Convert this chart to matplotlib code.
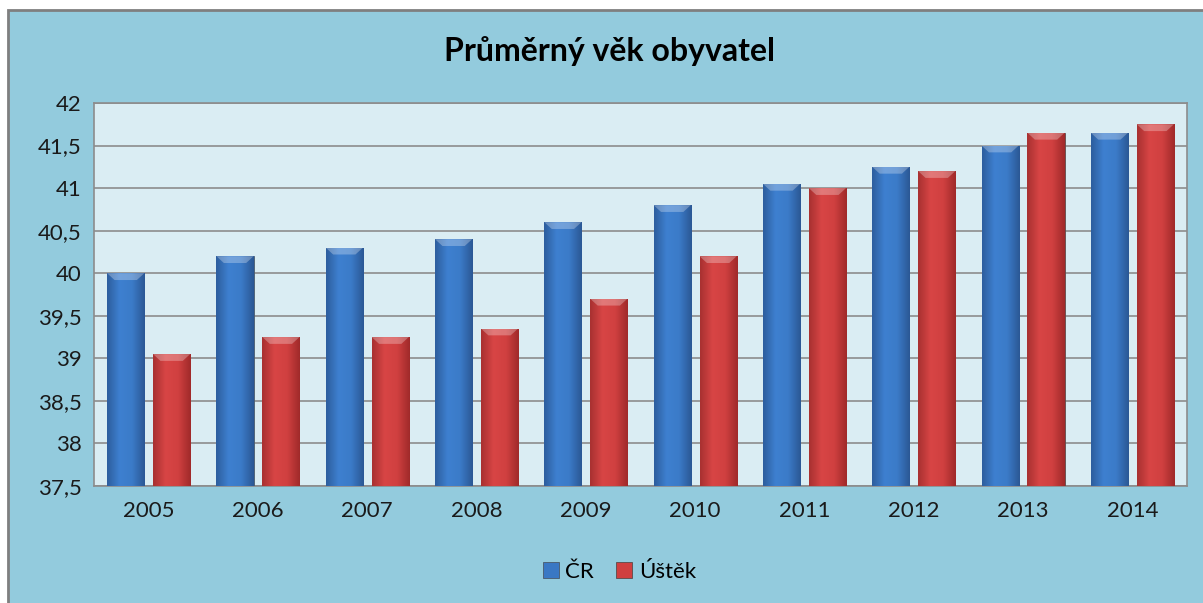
import matplotlib.pyplot as plt
import numpy as np
from matplotlib.patches import Rectangle
from matplotlib.colors import LinearSegmentedColormap

# --------------------------------------------------
# Data
# --------------------------------------------------
years = ["2005", "2006", "2007", "2008", "2009", "2010", "2011", "2012", "2013", "2014"]
cr_values = [40.0, 40.2, 40.3, 40.4, 40.6, 40.8, 41.05, 41.25, 41.5, 41.65]
ustek_values = [39.05, 39.25, 39.25, 39.35, 39.7, 40.2, 41.0, 41.2, 41.65, 41.75]
series_names = ["ČR", "Úštěk"]

y_ticks = [37.5, 38, 38.5, 39, 39.5, 40, 40.5, 41, 41.5, 42]
y_labels = ["37,5", "38", "38,5", "39", "39,5", "40", "40,5", "41", "41,5", "42"]

# --------------------------------------------------
# Style
# --------------------------------------------------
plt.rcParams['font.family'] = ['Lato', 'DejaVu Sans']
chart_bg = "#93CBDD"
plot_bg = "#DAEDF3"
blue_cm = LinearSegmentedColormap.from_list("b", ["#2D5E9E", "#3E80D0", "#3B7BC8", "#2B5895"])
red_cm = LinearSegmentedColormap.from_list("r", ["#A83131", "#D84545", "#D04040", "#A02A2A"])

fig = plt.figure(figsize=(12.03, 6.03), dpi=100)
fig.patch.set_facecolor("white")

# chart area frame
fig.patches.append(Rectangle((8 / 1203, -0.01), 1.0, 1 - 10 / 603 + 0.01,
                             transform=fig.transFigure, facecolor=chart_bg,
                             edgecolor="#7F7F7F", linewidth=2, zorder=-10))

ax = fig.add_axes([94 / 1203, 117 / 603, (1187 - 94) / 1203, (486 - 103) / 603])
ax.set_facecolor(plot_bg)

x = np.arange(len(years))
width = 0.34
off = 0.21

bars_cr = ax.bar(x - off, cr_values, width, bottom=0, color="#3A78C4",
                 edgecolor="#4A5A6A", linewidth=0.6, zorder=3, label=series_names[0])
bars_us = ax.bar(x + off, ustek_values, width, bottom=0, color="#D03F3F",
                 edgecolor="#5A4A4A", linewidth=0.6, zorder=3, label=series_names[1])

# gradient fill clipped to each bar
grad = np.linspace(0, 1, 64).reshape(1, -1)
for bars, cm in [(bars_cr, blue_cm), (bars_us, red_cm)]:
    for b in bars:
        x0, w, h = b.get_x(), b.get_width(), b.get_height()
        im = ax.imshow(grad, cmap=cm, aspect="auto", extent=[x0, x0 + w, 37.5, h],
                       zorder=3.5, interpolation="bicubic")
        im.set_clip_path(b)
        # light bevel at the top
        ax.fill([x0, x0 + w, x0 + w * 0.8, x0 + w * 0.2],
                [h, h, h - 0.08, h - 0.08], color="white", alpha=0.28,
                zorder=3.6, linewidth=0)

ax.set_xlim(-0.5, len(years) - 0.5)
ax.set_ylim(37.5, 42)
ax.set_yticks(y_ticks)
ax.set_yticklabels(y_labels, fontsize=16, color="#1A1A1A")
ax.set_xticks(x)
ax.set_xticklabels(years, fontsize=16, color="#1A1A1A")
ax.tick_params(length=0, pad=11)
ax.tick_params(axis="y", pad=9)
ax.grid(axis="y", color="#8C8C8C", linewidth=1.2, zorder=1)
ax.set_axisbelow(True)
for s in ax.spines.values():
    s.set_color("#8C8C8C")
    s.set_linewidth(1.2)

fig.text(0.507, 0.915, "Průměrný věk obyvatel", ha="center", va="center",
         fontsize=23, fontweight="bold", color="#000000")

leg = fig.legend(handles=[bars_cr, bars_us], loc="center", bbox_to_anchor=(0.515, 0.052),
                 ncol=2, frameon=False, fontsize=16, handlelength=0.7, handleheight=0.7,
                 handletextpad=0.3, columnspacing=1.0)

fig.savefig("out.png", dpi=100)
